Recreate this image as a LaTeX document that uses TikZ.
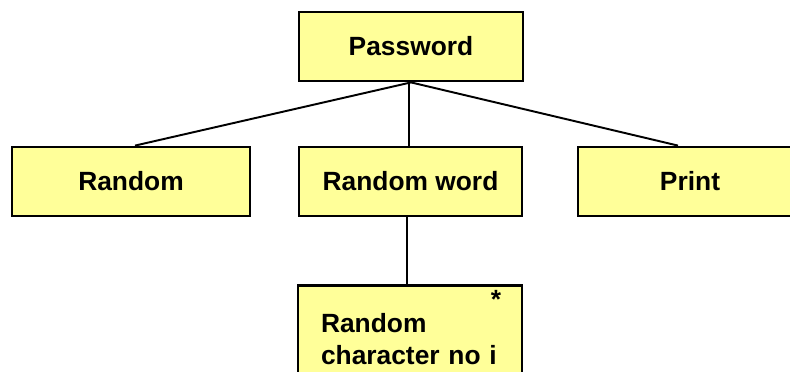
\documentclass[tikz,border=0pt]{standalone}
\usepackage{fontspec}
\setmainfont{Liberation Sans}
\usepackage{xcolor}
\usepackage{tikz}
\usetikzlibrary{positioning}

\definecolor{paleyellow}{RGB}{255,255,153}

\begin{document}
\begin{tikzpicture}[
    pbox/.style={draw=black, line width=1.6pt, fill=paleyellow, minimum width=4.48cm, minimum height=1.38cm, font=\fontsize{15}{18.2}\selectfont\bfseries, inner sep=0pt},
    link/.style={draw, line width=1.1pt}
]
    \useasboundingbox (0,0) rectangle (15.8,-7.42);

    % Boxes
    \node[pbox] (password) at (8.22, -0.93) {Password};
    \node[pbox, minimum width=4.76cm] (random) at (2.62, -3.63) {Random};
    \node[pbox, minimum width=4.46cm] (word) at (8.21, -3.63) {Random word};
    \node[pbox] (print) at (13.8, -3.63) {Print};
    \node[pbox, anchor=north, text width=3.56cm, align=left, inner xsep=0.44cm, inner ysep=0.56cm] (char) at (8.2, -5.68) {Random\\character no i};
    \node[font=\fontsize{15}{18}\selectfont\bfseries, inner sep=0pt] (star) at (9.92, -5.98) {*};

    % Links
    \draw[link] (password.south) -- ([xshift=0.08cm]random.north);
    \draw[link] ([xshift=-0.04cm]password.south) -- ([xshift=-0.03cm]word.north);
    \draw[link] (password.south) -- ([xshift=-0.24cm]print.north);
    \draw[link] ([xshift=-0.07cm]word.south) -- ([xshift=-0.06cm]char.north);

\end{tikzpicture}
\end{document}
